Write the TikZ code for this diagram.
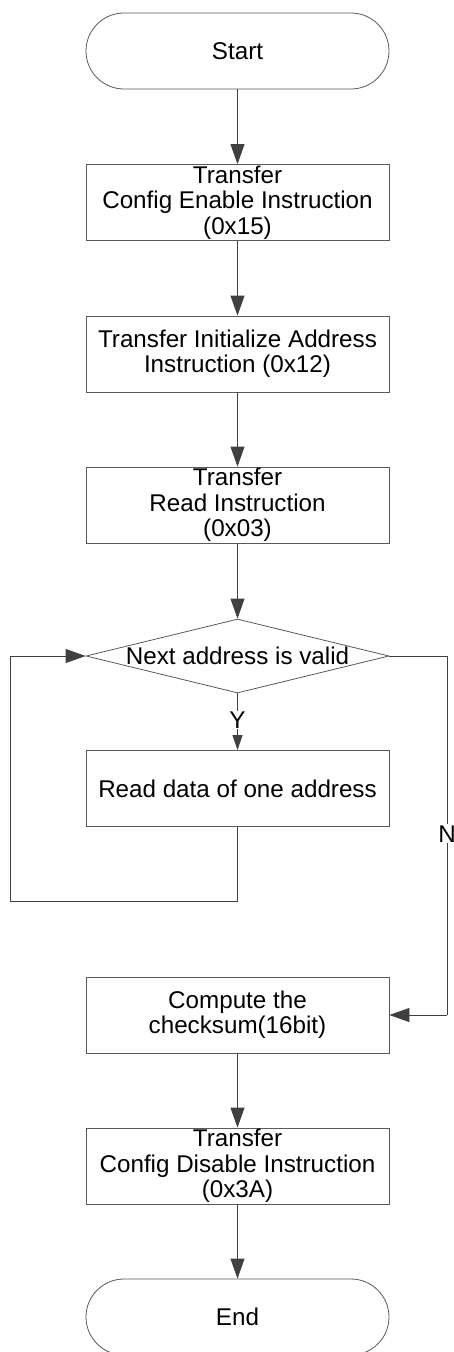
\documentclass[tikz,border=0pt]{standalone}
\usepackage{fontspec}
\setmainfont{Liberation Sans}
\usetikzlibrary{shapes.geometric,arrows.meta}
\begin{document}
\begin{tikzpicture}[x=1pt,y=-1pt,
  every node/.style={font=\fontsize{24.2pt}{25.3pt}\selectfont, text=black},
  procbox/.style={draw=black!65, line width=0.8pt, rectangle, minimum width=303pt, minimum height=76pt, inner sep=0pt, align=center},
  termbox/.style={draw=black!65, line width=0.8pt, rectangle, rounded corners=38pt, minimum width=303pt, minimum height=76pt, inner sep=0pt, align=center},
  decision/.style={draw=black!65, line width=0.8pt, diamond, minimum width=303pt, minimum height=74pt, inner sep=0pt},
  flow/.style={draw=black!75, line width=0.8pt, -{Triangle[length=20pt,width=14pt]}},
  shortflow/.style={draw=black!75, line width=0.8pt, -{Triangle[length=15pt,width=10pt]}},
  plain/.style={draw=black!75, line width=0.8pt},
  tag/.style={fill=white, inner sep=1pt}
]
\useasboundingbox (0,0) rectangle (454,1352);

% process steps
\node[termbox] (start) at (237.5,51) {Start};
\node[procbox] (enable) at (237.5,202.5) {Transfer\\Config Enable Instruction\\(0x15)};
\node[procbox] (init) at (237.5,354) {Transfer Initialize Address\\Instruction (0x12)};
\node[procbox] (readins) at (237.5,505) {Transfer\\Read Instruction\\(0x03)};
\node[decision] (valid) at (237.5,656) {};
\node (validtext) at (valid.center) {Next address is valid};
\node[procbox] (readdata) at (237.5,788.5) {Read data of one address};
\node[procbox] (checksum) at (237.5,1015) {Compute the\\checksum(16bit)};
\node[procbox] (disable) at (237.5,1166) {Transfer\\Config Disable Instruction\\(0x3A)};
\node[termbox] (end) at (237.5,1317) {End};

% loop corners
\coordinate (loopA) at (237.5,901);
\coordinate (loopB) at (10,901);
\coordinate (loopC) at (10,656);
\coordinate (noA) at (447,656);
\coordinate (noB) at (447,1015);

% main connectors
\draw[flow] (start) -- (enable);
\draw[flow] (enable) -- (init);
\draw[flow] (init) -- (readins);
\draw[flow] (readins) -- (valid);
\draw[shortflow] (valid) -- node[tag, pos=0.47] (ylab) {Y} (readdata);
\draw[flow] (readdata.south) -- (loopA) -- (loopB) -- (loopC) -- (valid.west);
\draw[plain] (valid.east) -- (noA) -- node[tag, pos=0.495] (nlab) {N} (noB);
\draw[flow] (noB) -- (checksum.east);
\draw[flow] (checksum) -- (disable);
\draw[flow] (disable) -- (end);
\end{tikzpicture}
\end{document}
